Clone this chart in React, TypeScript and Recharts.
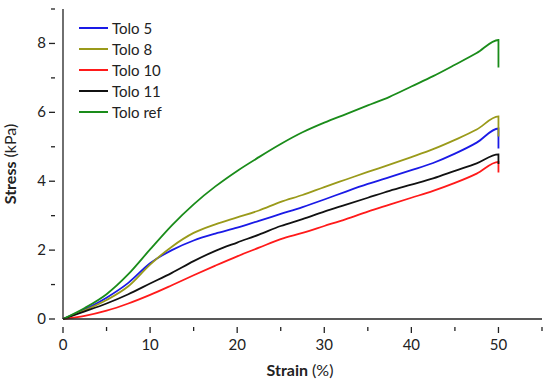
import React from 'react'
import { LineChart, Line, XAxis, YAxis } from 'recharts'

// strain (%) sample points; the repeated 50 is the drop at the end of each test
const strain = [0, 2.5, 5, 7.5, 10, 12.5, 15, 17.5, 20, 22.5, 25, 27.5, 30, 32.5, 35, 37.5, 40, 42.5, 45, 47.5, 50, 50]

const tolo5 = [0, 0.28, 0.62, 1.05, 1.62, 2.0, 2.28, 2.48, 2.65, 2.85, 3.05, 3.25, 3.47, 3.7, 3.92, 4.12, 4.32, 4.53, 4.8, 5.12, 5.53, 4.95]
const tolo8 = [0, 0.25, 0.55, 0.95, 1.58, 2.1, 2.5, 2.75, 2.95, 3.15, 3.4, 3.6, 3.83, 4.05, 4.27, 4.48, 4.7, 4.93, 5.2, 5.5, 5.88, 5.3]
const tolo10 = [0, 0.09, 0.24, 0.45, 0.7, 0.98, 1.27, 1.55, 1.82, 2.07, 2.32, 2.5, 2.7, 2.9, 3.12, 3.32, 3.52, 3.72, 3.95, 4.22, 4.56, 4.25]
const tolo11 = [0, 0.22, 0.45, 0.72, 1.03, 1.34, 1.68, 1.98, 2.22, 2.45, 2.7, 2.9, 3.12, 3.32, 3.52, 3.72, 3.9, 4.08, 4.3, 4.52, 4.78, 4.5]
const toloRef = [0, 0.32, 0.72, 1.3, 2.02, 2.72, 3.33, 3.85, 4.3, 4.7, 5.08, 5.42, 5.7, 5.95, 6.2, 6.45, 6.75, 7.05, 7.38, 7.72, 8.1, 7.3]

const xTicks = [0, 5, 10, 15, 20, 25, 30, 35, 40, 45, 50, 55]
const yTicks = [0, 1, 2, 3, 4, 5, 6, 7, 8, 9]

const series = [
  { name: 'Tolo 5', values: tolo5, color: '#1a1ae6' },
  { name: 'Tolo 8', values: tolo8, color: '#9a9a1a' },
  { name: 'Tolo 10', values: tolo10, color: '#ff1a1a' },
  { name: 'Tolo 11', values: tolo11, color: '#111111' },
  { name: 'Tolo ref', values: toloRef, color: '#1a8c1a' },
]

const font = 'Lato, "Open Sans", sans-serif'
const axisColor = '#222'

const toData = (values: number[]) => strain.map((s, i) => ({ strain: s, stress: values[i] }))

const XTick = (props: any) => {
  const { x, y, payload } = props
  const major = payload.value % 10 === 0
  return (
    <g>
      <line x1={x} x2={x} y1={y} y2={y + (major ? 6 : 4)} stroke={axisColor} strokeWidth={1.3} />
      {major && (
        <text x={x} y={y + 23} textAnchor="middle" fontSize={15} fill="#222" fontFamily={font}>
          {payload.value}
        </text>
      )}
    </g>
  )
}

const YTick = (props: any) => {
  const { x, y, payload } = props
  const major = payload.value % 2 === 0
  return (
    <g>
      <line x1={x} x2={x - (major ? 6 : 4)} y1={y} y2={y} stroke={axisColor} strokeWidth={1.3} />
      {major && (
        <text x={x - 9} y={y + 5} textAnchor="end" fontSize={15} fill="#222" fontFamily={font}>
          {payload.value}
        </text>
      )}
    </g>
  )
}

const App = () => {
  return (
    <div style={{ position: 'absolute', left: 0, top: 0, width: 550, height: 382, background: '#fff' }}>
      <LineChart width={550} height={382} margin={{ top: 9, right: 8, left: 0, bottom: 0 }}>
        <XAxis
          dataKey="strain"
          type="number"
          domain={[0, 55]}
          ticks={xTicks}
          interval={0}
          height={63}
          allowDuplicatedCategory={false}
          stroke={axisColor}
          strokeWidth={1.3}
          tickLine={false}
          tick={<XTick />}
          label={() => (
            <text x={300} y={376} textAnchor="middle" fontSize={16} fill="#222" fontFamily={font}>
              <tspan fontWeight="bold">Strain</tspan>
              <tspan> (%)</tspan>
            </text>
          )}
        />
        <YAxis
          type="number"
          domain={[0, 9]}
          ticks={yTicks}
          interval={0}
          width={63}
          stroke={axisColor}
          strokeWidth={1.3}
          tickLine={false}
          tick={<YTick />}
          label={() => (
            <text
              x={16}
              y={164}
              transform="rotate(-90 16 164)"
              textAnchor="middle"
              fontSize={16}
              fill="#222"
              fontFamily={font}
            >
              <tspan fontWeight="bold">Stress</tspan>
              <tspan> (kPa)</tspan>
            </text>
          )}
        />
        {series.map((s) => (
          <Line
            key={s.name}
            data={toData(s.values)}
            dataKey="stress"
            name={s.name}
            type="monotone"
            stroke={s.color}
            strokeWidth={1.8}
            dot={false}
            isAnimationActive={false}
          />
        ))}
      </LineChart>
      <div style={{ position: 'absolute', left: 79, top: 17, fontFamily: font, fontSize: 15, color: '#222' }}>
        {series.map((s) => (
          <div key={s.name} style={{ display: 'flex', alignItems: 'center', height: 21 }}>
            <div style={{ width: 29, height: 2, background: s.color, marginRight: 4 }} />
            <span>{s.name}</span>
          </div>
        ))}
      </div>
    </div>
  )
}

export default App
